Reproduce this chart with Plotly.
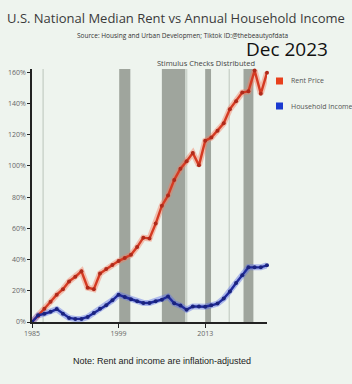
import plotly.graph_objects as go

years = list(range(1985, 2024))
rent_pct = [0, 4, 8.5, 13, 17.5, 21, 26, 29, 32.5, 22, 21, 31, 34, 36.5, 39, 41, 43,
            48, 54, 53.5, 63, 74.5, 81, 91, 98.2, 103, 108.2, 100.3, 116, 118.1,
            122.4, 127.2, 136.3, 141.4, 146.9, 147.7, 161, 146.2, 159.6]
income_pct = [0, 4.3, 5.3, 6.5, 8.3, 5.3, 2.6, 2, 2, 3.2, 5.8, 8.5, 10.7, 13.9, 17.5,
              16, 14.5, 13.3, 12.2, 12.2, 13.3, 14.3, 16.3, 12, 10.5, 7.9, 10, 10,
              9.8, 10.7, 11.8, 15, 19.5, 25, 30, 35, 35, 35, 36.3]
stimulus_periods = [(1999.1, 2000.9), (2006.0, 2009.8), (2013.0, 2013.95), (2019.2, 2020.8)]
light_marks = [1986.8, 2010.0, 2016.9]
x_ticks = [1985, 1999, 2013]
y_ticks = [0, 20, 40, 60, 80, 100, 120, 140, 160]
legend_names = ["Rent Price", "Household Income"]
legend_colors = ["#e8401c", "#1a3ad0"]

BG = "#eef4ee"
W, H = 352, 384
ML, MR, MT, MB = 32, 85, 69, 62
pw, ph = W - ML - MR, H - MT - MB


def px(x):
    return (x - ML) / pw


def py(y):
    return (H - MB - y) / ph


fig = go.Figure()
fig.add_trace(go.Scatter(x=years, y=rent_pct, mode="lines", line=dict(color="rgba(245,125,95,0.45)", width=6),
                         hoverinfo="skip", showlegend=False, cliponaxis=False))
fig.add_trace(go.Scatter(x=years, y=income_pct, mode="lines", line=dict(color="rgba(90,110,230,0.45)", width=6),
                         hoverinfo="skip", showlegend=False, cliponaxis=False))
fig.add_trace(go.Scatter(x=years, y=rent_pct, mode="lines+markers", name="Rent Price",
                         line=dict(color="#d43a22", width=2.4),
                         marker=dict(color="#b02a1a", size=4), showlegend=False, cliponaxis=False))
fig.add_trace(go.Scatter(x=years, y=income_pct, mode="lines+markers", name="Household Income",
                         line=dict(color="#1f2a9c", width=2.4),
                         marker=dict(color="#1a237e", size=4), showlegend=False, cliponaxis=False))

shapes = []
for a, b in stimulus_periods:
    shapes.append(dict(type="rect", xref="x", yref="paper", x0=a, x1=b, y0=0, y1=1.0,
                       fillcolor="#9fa59d", line=dict(width=0), layer="below"))
for m in light_marks:
    shapes.append(dict(type="line", xref="x", yref="paper", x0=m, x1=m, y0=0, y1=1.0,
                       line=dict(color="rgba(200,208,200,0.9)", width=1.5), layer="below"))

annotations = []
for i, (name, col) in enumerate(zip(legend_names, legend_colors)):
    yc = 81 + i * 25
    shapes.append(dict(type="rect", xref="paper", yref="paper", x0=px(276), x1=px(283),
                       y0=py(yc + 3.5), y1=py(yc - 3.5), fillcolor=col, line=dict(width=0)))
    annotations.append(dict(text=name, xref="paper", yref="paper", x=px(289), y=py(yc),
                            xanchor="left", yanchor="middle", showarrow=False,
                            font=dict(size=7, color="#555")))

texts = [
    ("U.S. National Median Rent vs Annual Household Income", 176, 18, 13, "#3a3a3a", "Open Sans"),
    ("Source: Housing and Urban Developmen; Tiktok ID:@thebeautyofdata", 182, 35, 6.5, "#333", "Open Sans"),
    ("Dec 2023", 287, 49, 19, "#111", "Open Sans"),
    ("Stimulus Checks Distributed", 206, 63, 7.5, "#444", "Open Sans"),
    ("Note: Rent and income are inflation-adjusted", 162, 361, 9, "#222", "Liberation Sans"),
]
for t, x, y, s, c, f in texts:
    annotations.append(dict(text=t, xref="paper", yref="paper", x=px(x), y=py(y),
                            xanchor="center", yanchor="middle", showarrow=False,
                            font=dict(size=s, color=c, family=f)))

fig.update_layout(
    width=W, height=H,
    margin=dict(l=ML, r=MR, t=MT, b=MB, autoexpand=False),
    paper_bgcolor=BG, plot_bgcolor=BG,
    font=dict(family="Open Sans", color="#555"),
    shapes=shapes,
    annotations=annotations,
    showlegend=False,
    xaxis=dict(range=[1985, 2023], tickvals=x_ticks, ticktext=[str(t) for t in x_ticks],
               showgrid=False, zeroline=False, showline=True, linecolor="#222", linewidth=1.5,
               ticks="outside", ticklen=4, tickcolor="#222", tickfont=dict(size=7, color="#666")),
    yaxis=dict(range=[0, 162], tickvals=y_ticks, ticktext=[f"{t}%" for t in y_ticks],
               showgrid=False, zeroline=False, showline=True, linecolor="#222", linewidth=1.5,
               ticks="outside", ticklen=3, tickcolor="#222", tickfont=dict(size=7, color="#666")),
)

fig.write_html("out.html")
